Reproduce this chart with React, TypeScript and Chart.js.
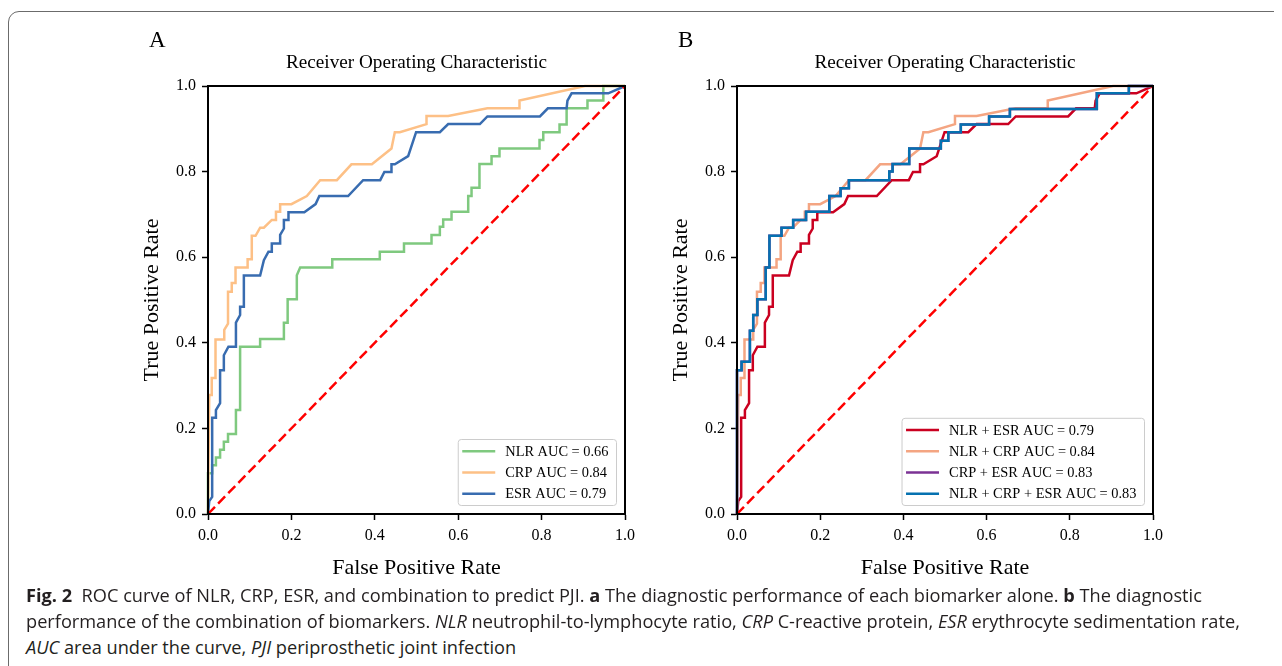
import React, { useEffect, useRef } from "react";
import { Chart, registerables } from "chart.js";

Chart.register(...registerables);
Chart.defaults.color = "#000";

// ---------- tick values / labels ----------
const tickValues = [0, 0.2, 0.4, 0.6, 0.8, 1.0];
const tickLabels = ["0.0", "0.2", "0.4", "0.6", "0.8", "1.0"];

// ---------- chance line ----------
const diagFpr = [0, 1];
const diagTpr = [0, 1];

// ---------- Panel A ----------
const nlrFpr = [0, 0, 0.01, 0.01, 0.019, 0.019, 0.029, 0.029, 0.038, 0.038, 0.048, 0.048, 0.067, 0.067, 0.077, 0.077, 0.125, 0.125, 0.182, 0.182, 0.191, 0.191, 0.213, 0.213, 0.221, 0.298, 0.298, 0.412, 0.412, 0.47, 0.47, 0.536, 0.536, 0.556, 0.556, 0.564, 0.564, 0.584, 0.584, 0.624, 0.624, 0.632, 0.632, 0.651, 0.651, 0.68, 0.68, 0.699, 0.699, 0.795, 0.795, 0.804, 0.804, 0.843, 0.843, 0.86, 0.86, 0.91, 0.91, 0.948, 0.948, 1.0];
const nlrTpr = [0, 0.095, 0.095, 0.114, 0.114, 0.132, 0.132, 0.15, 0.15, 0.169, 0.169, 0.187, 0.187, 0.243, 0.243, 0.391, 0.391, 0.409, 0.409, 0.447, 0.447, 0.502, 0.502, 0.558, 0.576, 0.576, 0.595, 0.595, 0.613, 0.613, 0.632, 0.632, 0.652, 0.652, 0.671, 0.671, 0.688, 0.688, 0.706, 0.706, 0.743, 0.743, 0.762, 0.762, 0.818, 0.818, 0.836, 0.836, 0.854, 0.854, 0.874, 0.874, 0.892, 0.892, 0.91, 0.91, 0.948, 0.948, 0.966, 0.966, 1.0, 1.0];

const crpFpr = [0, 0.003, 0.009, 0.009, 0.018, 0.018, 0.039, 0.039, 0.048, 0.048, 0.057, 0.057, 0.066, 0.066, 0.095, 0.095, 0.105, 0.105, 0.114, 0.125, 0.134, 0.153, 0.163, 0.163, 0.173, 0.173, 0.2, 0.237, 0.269, 0.309, 0.344, 0.393, 0.44, 0.448, 0.46, 0.524, 0.524, 0.576, 0.67, 0.747, 0.747, 0.904, 1.0];
const crpTpr = [0, 0.278, 0.278, 0.318, 0.318, 0.408, 0.408, 0.43, 0.445, 0.519, 0.519, 0.54, 0.54, 0.576, 0.576, 0.595, 0.595, 0.65, 0.65, 0.669, 0.669, 0.687, 0.687, 0.706, 0.706, 0.724, 0.724, 0.743, 0.78, 0.78, 0.817, 0.817, 0.854, 0.892, 0.892, 0.911, 0.93, 0.93, 0.948, 0.948, 0.966, 1.0, 1.0];

const esrFpr = [0, 0.003, 0.01, 0.01, 0.019, 0.019, 0.029, 0.029, 0.038, 0.038, 0.049, 0.067, 0.067, 0.077, 0.077, 0.086, 0.086, 0.125, 0.134, 0.145, 0.153, 0.153, 0.173, 0.173, 0.182, 0.182, 0.193, 0.193, 0.231, 0.258, 0.267, 0.336, 0.372, 0.413, 0.423, 0.44, 0.44, 0.448, 0.48, 0.499, 0.556, 0.576, 0.652, 0.67, 0.796, 0.815, 0.86, 0.862, 0.872, 0.96, 1.0];
const esrTpr = [0, 0.03, 0.04, 0.225, 0.225, 0.243, 0.259, 0.336, 0.336, 0.371, 0.391, 0.391, 0.447, 0.465, 0.484, 0.484, 0.557, 0.557, 0.593, 0.613, 0.613, 0.632, 0.632, 0.652, 0.667, 0.687, 0.687, 0.705, 0.705, 0.724, 0.743, 0.743, 0.78, 0.78, 0.799, 0.799, 0.817, 0.817, 0.836, 0.892, 0.892, 0.911, 0.911, 0.929, 0.929, 0.948, 0.948, 0.966, 0.983, 0.983, 1.0];

// ---------- Panel B ----------
const nlrEsrFpr = [0, 0.003, 0.01, 0.01, 0.019, 0.019, 0.029, 0.029, 0.038, 0.038, 0.049, 0.067, 0.067, 0.077, 0.077, 0.086, 0.086, 0.125, 0.134, 0.145, 0.153, 0.153, 0.173, 0.173, 0.182, 0.182, 0.193, 0.193, 0.231, 0.258, 0.267, 0.336, 0.372, 0.413, 0.423, 0.44, 0.44, 0.448, 0.48, 0.499, 0.556, 0.576, 0.652, 0.67, 0.796, 0.815, 0.86, 0.862, 0.872, 0.96, 1.0];
const nlrEsrTpr = [0, 0.03, 0.04, 0.225, 0.225, 0.243, 0.259, 0.336, 0.336, 0.371, 0.391, 0.391, 0.447, 0.465, 0.484, 0.484, 0.557, 0.557, 0.593, 0.613, 0.613, 0.632, 0.632, 0.652, 0.667, 0.687, 0.687, 0.705, 0.705, 0.724, 0.743, 0.743, 0.78, 0.78, 0.799, 0.799, 0.817, 0.817, 0.836, 0.892, 0.892, 0.911, 0.911, 0.929, 0.929, 0.948, 0.948, 0.966, 0.983, 0.983, 1.0];

const nlrCrpFpr = [0, 0.003, 0.009, 0.009, 0.018, 0.018, 0.039, 0.039, 0.048, 0.048, 0.057, 0.057, 0.066, 0.066, 0.095, 0.095, 0.105, 0.105, 0.114, 0.125, 0.134, 0.153, 0.163, 0.163, 0.173, 0.173, 0.2, 0.237, 0.269, 0.309, 0.344, 0.393, 0.44, 0.448, 0.46, 0.524, 0.524, 0.576, 0.67, 0.747, 0.747, 0.904, 1.0];
const nlrCrpTpr = [0, 0.278, 0.278, 0.318, 0.318, 0.408, 0.408, 0.43, 0.445, 0.519, 0.519, 0.54, 0.54, 0.576, 0.576, 0.595, 0.595, 0.65, 0.65, 0.669, 0.669, 0.687, 0.687, 0.706, 0.706, 0.724, 0.724, 0.743, 0.78, 0.78, 0.817, 0.817, 0.854, 0.892, 0.892, 0.911, 0.93, 0.93, 0.948, 0.948, 0.966, 1.0, 1.0];

const crpEsrFpr = [0, 0, 0.011, 0.011, 0.031, 0.031, 0.039, 0.039, 0.049, 0.049, 0.069, 0.069, 0.078, 0.078, 0.107, 0.107, 0.135, 0.135, 0.166, 0.166, 0.222, 0.222, 0.249, 0.249, 0.269, 0.269, 0.366, 0.366, 0.374, 0.374, 0.414, 0.414, 0.49, 0.49, 0.508, 0.508, 0.538, 0.538, 0.606, 0.606, 0.656, 0.656, 0.865, 0.865, 0.942, 0.942, 1.0];
const crpEsrTpr = [0, 0.336, 0.336, 0.356, 0.356, 0.428, 0.428, 0.465, 0.465, 0.502, 0.502, 0.576, 0.576, 0.65, 0.65, 0.669, 0.669, 0.687, 0.687, 0.706, 0.706, 0.743, 0.743, 0.761, 0.761, 0.78, 0.78, 0.8, 0.8, 0.818, 0.818, 0.854, 0.854, 0.872, 0.872, 0.892, 0.892, 0.91, 0.91, 0.929, 0.929, 0.946, 0.946, 0.983, 0.983, 1.0, 1.0];

const allFpr = [0, 0, 0.011, 0.011, 0.031, 0.031, 0.039, 0.039, 0.049, 0.049, 0.069, 0.069, 0.078, 0.078, 0.107, 0.107, 0.135, 0.135, 0.166, 0.166, 0.222, 0.222, 0.249, 0.249, 0.269, 0.269, 0.366, 0.366, 0.374, 0.374, 0.414, 0.414, 0.49, 0.49, 0.508, 0.508, 0.538, 0.538, 0.606, 0.606, 0.656, 0.656, 0.865, 0.865, 0.942, 0.942, 1.0];
const allTpr = [0, 0.336, 0.336, 0.356, 0.356, 0.428, 0.428, 0.465, 0.465, 0.502, 0.502, 0.576, 0.576, 0.65, 0.65, 0.669, 0.669, 0.687, 0.687, 0.706, 0.706, 0.743, 0.743, 0.761, 0.761, 0.78, 0.78, 0.8, 0.8, 0.818, 0.818, 0.854, 0.854, 0.872, 0.872, 0.892, 0.892, 0.91, 0.91, 0.929, 0.929, 0.946, 0.946, 0.983, 0.983, 1.0, 1.0];

type Series = { label: string; color: string; fpr: number[]; tpr: number[] };

const seriesA: Series[] = [
  { label: "NLR AUC = 0.66", color: "#7fc97f", fpr: nlrFpr, tpr: nlrTpr },
  { label: "CRP AUC = 0.84", color: "#fdc086", fpr: crpFpr, tpr: crpTpr },
  { label: "ESR AUC = 0.79", color: "#386cb0", fpr: esrFpr, tpr: esrTpr },
];

const seriesB: Series[] = [
  { label: "NLR + ESR AUC = 0.79", color: "#ca0020", fpr: nlrEsrFpr, tpr: nlrEsrTpr },
  { label: "NLR + CRP AUC = 0.84", color: "#f4a582", fpr: nlrCrpFpr, tpr: nlrCrpTpr },
  { label: "CRP + ESR AUC = 0.83", color: "#7b3294", fpr: crpEsrFpr, tpr: crpEsrTpr },
  { label: "NLR + CRP + ESR AUC = 0.83", color: "#0571b0", fpr: allFpr, tpr: allTpr },
];

const SERIF = '"Liberation Serif", "Times New Roman", serif';

function makeDecor(letter: string, title: string, items: Series[]) {
  return {
    id: "decor",
    afterDatasetsDraw(chart: any) {
      const { ctx, chartArea: ca } = chart;
      ctx.save();
      // frame (all four spines)
      ctx.setLineDash([]);
      ctx.strokeStyle = "#000";
      ctx.lineWidth = 2;
      ctx.strokeRect(ca.left, ca.top, ca.right - ca.left, ca.bottom - ca.top);

      // legend
      ctx.font = `14.4px ${SERIF}`;
      const textW = Math.max(...items.map((it) => ctx.measureText(it.label).width));
      const boxW = 4 + 33 + 10 + textW + 8;
      const rowH = 21.2;
      const m = 11.8;
      const boxH = 2 * m + (items.length - 1) * rowH;
      const bx = ca.right - 8.5 - boxW;
      const by = ca.bottom - 8.5 - boxH;
      ctx.beginPath();
      ctx.roundRect(bx, by, boxW, boxH, 3);
      ctx.fillStyle = "rgba(255,255,255,0.8)";
      ctx.fill();
      ctx.strokeStyle = "#cccccc";
      ctx.lineWidth = 1;
      ctx.stroke();
      items.forEach((it, i) => {
        const cy = by + m + i * rowH;
        ctx.beginPath();
        ctx.moveTo(bx + 4, cy);
        ctx.lineTo(bx + 37, cy);
        ctx.strokeStyle = it.color;
        ctx.lineWidth = 2.5;
        ctx.stroke();
        ctx.fillStyle = "#000";
        ctx.textAlign = "left";
        ctx.textBaseline = "middle";
        ctx.fillText(it.label, bx + 47, cy + 1);
      });

      // title and panel letter
      ctx.fillStyle = "#000";
      ctx.textAlign = "center";
      ctx.textBaseline = "alphabetic";
      ctx.font = `19.2px ${SERIF}`;
      ctx.fillText(title, (ca.left + ca.right) / 2, ca.top - 18);
      ctx.textAlign = "left";
      ctx.font = `23px ${SERIF}`;
      ctx.fillText(letter, ca.left - 59, ca.top - 39);
      ctx.restore();
    },
  };
}

function RocChart(props: {
  left: number;
  top: number;
  width: number;
  height: number;
  padRight: number;
  letter: string;
  series: Series[];
}) {
  const ref = useRef<HTMLCanvasElement>(null);
  useEffect(() => {
    const canvas = ref.current;
    if (!canvas) return;
    const { series, letter, padRight } = props;
    const datasets: any[] = [
      {
        label: "chance",
        data: diagFpr.map((x, i) => ({ x, y: diagTpr[i] })),
        borderColor: "#ff0000",
        borderDash: [10, 4.5],
        borderWidth: 2.5,
        showLine: true,
        pointRadius: 0,
        clip: 4,
      },
      ...series
        .slice()
        .reverse()
        .map((s) => ({
          label: s.label,
          data: s.fpr.map((x, i) => ({ x, y: s.tpr[i] })),
          borderColor: s.color,
          backgroundColor: s.color,
          borderWidth: 2.5,
          showLine: true,
          pointRadius: 0,
          tension: 0,
          clip: 4,
        })),
    ];
    const axisCommon = {
      type: "linear" as const,
      min: 0,
      max: 1,
      afterBuildTicks: (axis: any) => {
        axis.ticks = tickValues.map((v) => ({ value: v }));
      },
      border: { display: true, color: "#000", width: 2 },
      grid: {
        display: true,
        drawOnChartArea: false,
        drawTicks: true,
        tickLength: 6,
        tickColor: "#000",
        tickWidth: 1.5,
      },
    };
    const chart = new Chart(canvas, {
      type: "scatter",
      data: { datasets },
      options: {
        animation: false,
        responsive: false,
        maintainAspectRatio: false,
        events: [],
        layout: { padding: { top: 66, right: padRight, bottom: 0, left: 0 } },
        plugins: {
          legend: { display: false },
          tooltip: { enabled: false },
          title: { display: false },
        },
        scales: {
          x: {
            ...axisCommon,
            afterFit: (scale: any) => {
              scale.height = 71;
            },
            ticks: {
              padding: 6,
              color: "#000",
              font: { family: SERIF, size: 16 },
              callback: (_v: any, i: number) => tickLabels[i],
            },
            title: {
              display: true,
              text: "False Positive Rate",
              color: "#000",
              font: { family: SERIF, size: 22 },
              padding: { top: 0, bottom: 4 },
            },
          },
          y: {
            ...axisCommon,
            afterFit: (scale: any) => {
              scale.width = 88;
            },
            ticks: {
              padding: 6,
              color: "#000",
              font: { family: SERIF, size: 16 },
              callback: (_v: any, i: number) => tickLabels[i],
            },
            title: {
              display: true,
              text: "True Positive Rate",
              color: "#000",
              font: { family: SERIF, size: 22 },
              padding: { top: 19, bottom: 0 },
            },
          },
        },
      } as any,
      plugins: [makeDecor(letter, "Receiver Operating Characteristic", series)],
    });
    return () => chart.destroy();
  }, []);
  return (
    <canvas
      ref={ref}
      width={props.width}
      height={props.height}
      style={{
        position: "absolute",
        left: props.left,
        top: props.top,
        width: props.width,
        height: props.height,
      }}
    />
  );
}

const captionStyle: React.CSSProperties = {
  position: "absolute",
  left: 18,
  whiteSpace: "nowrap",
  fontFamily: '"Open Sans", "Noto Sans", sans-serif',
  fontSize: 18.2,
  lineHeight: "26px",
  color: "#231f20",
};

export default function App() {
  return (
    <div
      style={{
        position: "relative",
        width: 1274,
        height: 658,
        overflow: "hidden",
        background: "#fff",
      }}
    >
      <div
        style={{
          position: "absolute",
          left: 0,
          top: 3,
          width: 1320,
          height: 720,
          border: "1.5px solid #6b6b6b",
          borderRadius: 11,
          boxSizing: "border-box",
        }}
      />
      <RocChart left={112} top={12} width={530} height={565} padRight={25} letter="A" series={seriesA} />
      <RocChart left={641} top={12} width={530} height={565} padRight={26} letter="B" series={seriesB} />
      <div style={{ ...captionStyle, top: 574 }}>
        <b>Fig. 2</b>&nbsp; ROC curve of NLR, CRP, ESR, and combination to predict PJI. <b>a</b> The diagnostic
        performance of each biomarker alone. <b>b</b> The diagnostic
      </div>
      <div style={{ ...captionStyle, top: 600 }}>
        performance of the combination of biomarkers. <i>NLR</i> neutrophil-to-lymphocyte ratio, <i>CRP</i> C-reactive
        protein, <i>ESR</i> erythrocyte sedimentation rate,
      </div>
      <div style={{ ...captionStyle, top: 626 }}>
        <i>AUC</i> area under the curve, <i>PJI</i> periprosthetic joint infection
      </div>
    </div>
  );
}
